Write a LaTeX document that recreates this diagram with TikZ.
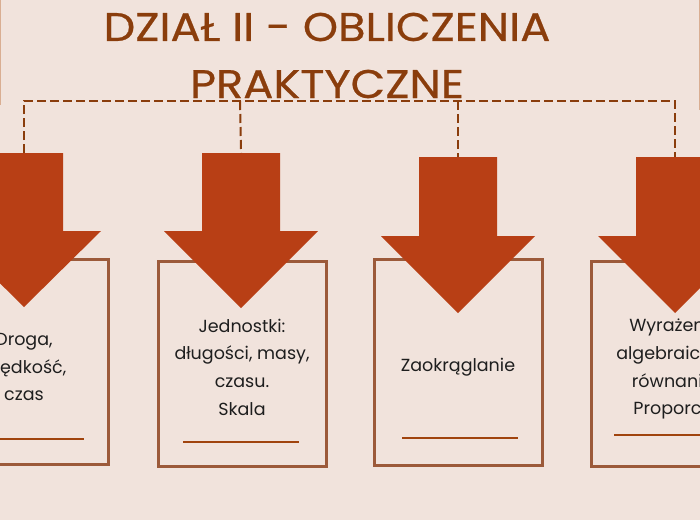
\documentclass[tikz,border=0pt]{standalone}
\usepackage{fontspec}
\setmainfont{Poppins}
\newfontfamily\titlefont[FakeStretch=1.12,FakeBold=0.6]{Poppins}
\begin{document}
\begin{tikzpicture}[x=1pt,y=-1pt,
  conn/.style={draw=ttl,line width=2pt,dash pattern=on 9pt off 4pt},
  arrowshape/.style={fill=arr,draw=none},
  boxshape/.style={draw=boxc,line width=3pt,fill=none},
  uline/.style={draw=ulc,line width=2pt},
  btext/.style={align=center,font=\fontsize{17.5}{27.7}\selectfont,text=txt},
  ttext/.style={font=\titlefont\fontsize{40}{56}\selectfont,text=ttl,align=center}]
\definecolor{bg}{HTML}{F1E3DC}
\definecolor{ttl}{HTML}{8A3D0C}
\definecolor{arr}{HTML}{B83F15}
\definecolor{boxc}{HTML}{9C5A3A}
\definecolor{ulc}{HTML}{A0440E}
\definecolor{edge}{HTML}{D9AE92}
\definecolor{txt}{HTML}{1E1E1E}
\useasboundingbox (0,0) rectangle (700,520);
\fill[bg] (0,0) rectangle (700,520);
\begin{scope}
\clip (0,0) rectangle (700,520);
% faint frame edges
\draw[edge,line width=1pt] (0.5,0) -- (0.5,105);
\draw[edge,line width=1pt] (699.5,0) -- (699.5,110);
% title
\node[ttext] (t1) at (327,27) {DZIAŁ II - OBLICZENIA};
\node[ttext] (t2) at (327,84) {PRAKTYCZNE};
% boxes
\node[boxshape,minimum width=168pt,minimum height=205pt,inner sep=0pt] (b1) at (24,362) {};
\node[boxshape,minimum width=168pt,minimum height=205pt,inner sep=0pt] (b2) at (242,363.5) {};
\node[boxshape,minimum width=168pt,minimum height=206pt,inner sep=0pt] (b3) at (458,362) {};
\node[boxshape,minimum width=168pt,minimum height=205pt,inner sep=0pt] (b4) at (675,363.5) {};
% underlines
\draw[uline] (-35,439) -- (84,439);
\draw[uline] (183,442) -- (299,442);
\draw[uline] (402,438) -- (518,438);
\draw[uline] (614,435) -- (735,435);
% arrows
\foreach \n/\cx/\ty/\hy/\tip in {1/24/153/231/307, 2/241/153/231/308, 3/458/157/236/313, 4/675/157/236/313}{
  \fill[arrowshape] (\cx-39,\ty) -- (\cx+39,\ty) -- (\cx+39,\hy) -- (\cx+77,\hy) -- (\cx,\tip) -- (\cx-77,\hy) -- (\cx-39,\hy) -- cycle;
  \coordinate (a\n) at (\cx,\ty);
}
% connector
\coordinate (c1) at (24,101);
\coordinate (c4) at (675,101);
\coordinate (c2) at (240,101);
\coordinate (c3) at (458,101);
\draw[conn] (a1) -- (c1) -- (c4) -- (a4);
\draw[conn] (c2) -- (a2);
\draw[conn] (c3) -- (a3);
% texts
\node[btext] (x1) at (24,367) {Droga,\\prędkość,\\czas};
\node[btext] (x2) at (242,367) {Jednostki:\\długości, masy,\\czasu.\\Skala};
\node[btext] (x3) at (458,367) {Zaokrąglanie};
\node[btext] (x4) at (675,369) {Wyrażenia\\algebraiczne,\\równania.\\Proporcje};
\end{scope}
\end{tikzpicture}
\end{document}
